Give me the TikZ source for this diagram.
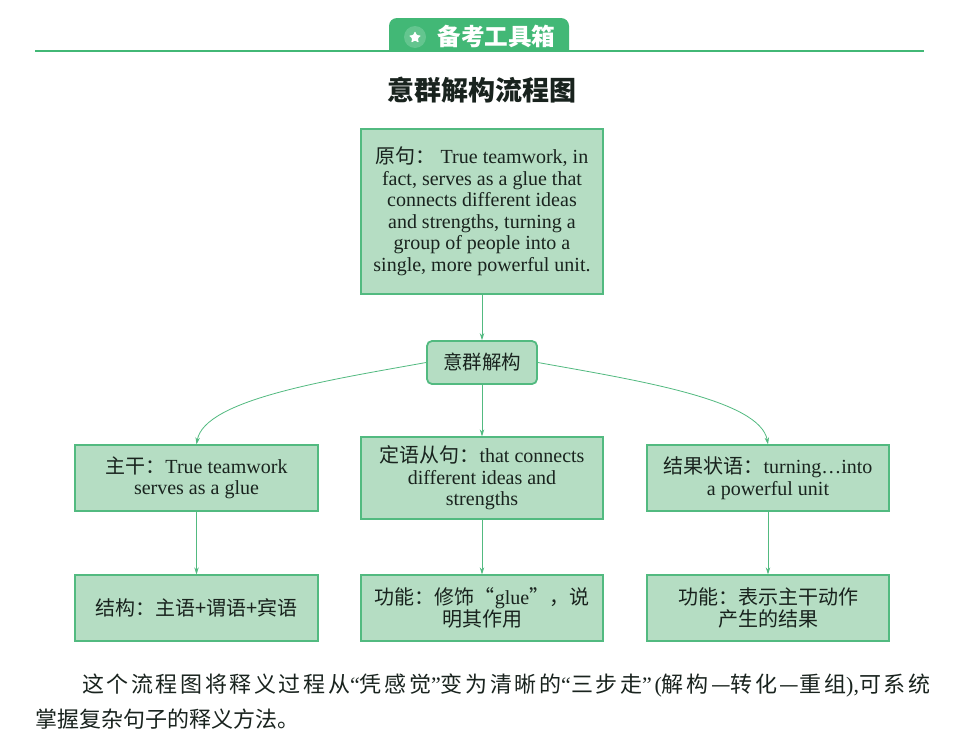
\documentclass[tikz,border=0pt]{standalone}
\usepackage{fontspec}
\setmainfont{Liberation Serif}
\newfontfamily\cjk{Noto Sans CJK SC}
\usetikzlibrary{arrows.meta, shapes.geometric, positioning}
\definecolor{boxfill}{RGB}{181,221,195}
\definecolor{boxline}{RGB}{82,186,128}
\definecolor{badgegreen}{RGB}{66,184,118}
\definecolor{inktext}{RGB}{25,35,30}
\tikzset{
  box/.style={draw=boxline, fill=boxfill, line width=1.3pt, align=center, text=inktext,
    inner sep=2pt, minimum width=242pt, font=\fontsize{20}{21.5}\selectfont},
  link/.style={draw=boxline, line width=0.8pt, -{Stealth[length=7pt,width=4.5pt]}},
  para/.style={anchor=base west, inner sep=0pt, text=inktext, text width=895pt, align=justify,
    font=\cjk\fontsize{22}{35}\selectfont},
}

\begin{document}
\begin{tikzpicture}[x=1pt, y=1pt]
        \fill[white] (0,0) rectangle (969,-747);
        \useasboundingbox (0,0) rectangle (969,-747);

        % header bar
        \draw[badgegreen, line width=1.3pt] (35,-51) -- (924,-51);
        \fill[badgegreen] (389,-51) -- (389,-26) arc[start angle=180, end angle=90, radius=8]
            -- (561,-18) arc[start angle=90, end angle=0, radius=8] -- (569,-51) -- cycle;
        \fill[badgegreen!82!white] (415,-37) circle (11);
        \node[star, star points=5, star point ratio=2.2, fill=white, minimum size=13pt, inner sep=0pt, rounded corners=1pt] (Nstar) at (415,-37.5) {};
        \node[text=white, font=\cjk\bfseries\fontsize{23.6}{26}\selectfont, anchor=west] (Nbadge) at (434,-36) {备考工具箱};

        \node[text=inktext, font=\cjk\bfseries\fontsize{27}{30}\selectfont] (Ntitle) at (482,-90) {意群解构流程图};

        % boxes
        \node[box, minimum height=165pt] (Ns) at (482,-211.5)
            {{\cjk 原句：}\ True teamwork, in\\ fact, serves as a glue that\\ connects different ideas\\
             and strengths, turning a\\ group of people into a\\ single, more powerful unit.};
        \node[box, minimum width=110pt, minimum height=43pt, rounded corners=5pt, line width=1.8pt, font=\cjk\fontsize{19.5}{21.5}\selectfont] (Ng) at (482,-362.5) {意群解构};

        \node[box, minimum width=243pt, minimum height=66pt] (Nl) at (196.5,-478)
            {{\cjk 主干：}True teamwork\\ serves as a glue};
        \node[box, minimum height=82pt] (Nc) at (482,-478)
            {{\cjk 定语从句：}that connects\\ different ideas and\\ strengths};
        \node[box, minimum height=66pt] (Nr) at (768,-478)
            {{\cjk 结果状语：}turning\ldots into\\ a powerful unit};

        \node[box, minimum width=243pt, minimum height=66pt, font=\cjk\fontsize{20}{21.5}\selectfont] (Nl2) at (196.5,-608)
            {结构：主语+谓语+宾语};
        \node[box, minimum height=66pt] (Nc2) at (482,-608)
            {{\cjk 功能：修饰“}glue{\cjk ”，说}\\ {\cjk 明其作用}};
        \node[box, minimum height=66pt, font=\cjk\fontsize{20}{21.5}\selectfont] (Nr2) at (768,-608)
            {功能：表示主干动作\\ 产生的结果};

        % connectors
        \draw[link] (Ns) -- (Ng);
        \draw[link] (Ng) -- (Nc);
        \draw[link] (Ng.west) .. controls +(-97,-17.5) and +(8,45) .. (Nl.north);
        \draw[link] (Ng.east) .. controls +(97,-17.5) and +(-8,45) .. (Nr.north);
        \draw[link] (Nl) -- (Nl2);
        \draw[link] (Nc) -- (Nc2);
        \draw[link] (Nr) -- (Nr2);

        % closing text
        \node[para] (Npara) at (35,-692)
            {\XeTeXlinebreaklocale "zh"\XeTeXlinebreakskip=0pt plus 4pt\relax
             \hspace*{47pt}这个流程图将释义过程从{\rmfamily“}凭感觉{\rmfamily”}变为清晰的{\rmfamily“}三步走{\rmfamily”(}解构—转化—重组{\rmfamily),}可系统\linebreak
             掌握复杂句子的释义方法。};
    \end{tikzpicture}
\end{document}
